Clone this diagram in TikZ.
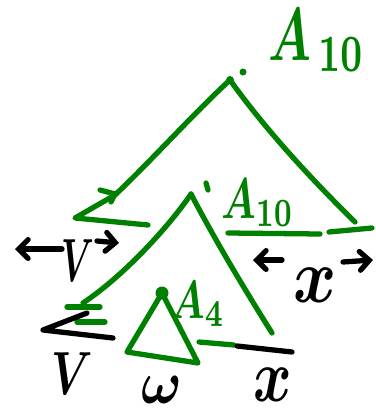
\documentclass[tikz,border=0pt]{standalone}
\usepackage{amsmath}
\usetikzlibrary{arrows.meta}
\definecolor{inkgreen}{RGB}{0,128,0}
\tikzstyle{ink} = [draw=inkgreen, line width=4.5pt, line cap=round, line join=round]
\tikzstyle{pen} = [draw=black, line width=4.5pt, line cap=round, line join=round]
\tikzstyle{dimarrow} = [pen, -{Straight Barb[length=8pt, width=16pt, line cap=round]}]
\tikzstyle{glbl} = [inner sep=0pt, text=inkgreen, font=\boldmath]
\tikzstyle{lbl} = [inner sep=0pt, text=black, font=\boldmath]

\begin{document}
\begin{tikzpicture}[x=0.03cm, y=-0.03cm]
    \useasboundingbox (0,0) rectangle (376,415);

    \coordinate (ta) at (230,80);
    \coordinate (tl) at (75,218);
    \coordinate (tr) at (355,222);
    \coordinate (ma) at (191,194);
    \coordinate (ml) at (83,303);
    \coordinate (mr) at (272,333);
    \coordinate (ia) at (162,293);
    \coordinate (il) at (127,352);
    \coordinate (ir) at (198,363);

    \draw[ink] (ta) .. controls (195,112) and (150,162) .. (115,195) -- (tl) -- (148,225);
    \draw[ink] (100,190) -- (115,194) -- (111,202);
    \draw[ink] (ta) .. controls (260,122) and (302,170) .. (tr);
    \draw[ink] (228,233) -- (320,234);
    \draw[ink] (329,232) -- (372,228);
    \fill[inkgreen] (ta) circle (4);
    \fill[inkgreen] (243,72) circle (3.5);

    \draw[ink] (ma) .. controls (170,225) and (125,275) .. (ml);
    \draw[ink] (ma) .. controls (215,240) and (245,290) .. (mr);
    \draw[ink] (206,183) -- (208,190);
    \draw[ink] (67,307) -- (100,307);
    \draw[ink] (77,322) -- (105,322);
    \draw[pen] (87,313) -- (43,330) -- (113,338);

    \draw[ink] (ia) -- (il) -- (ir) -- cycle;
    \fill[inkgreen] (ia) circle (6.5);
    \draw[ink] (199,342) -- (234,345);
    \draw[pen] (237,346) -- (292,352);

    \node[glbl, anchor=base west] (atop) at (268,60) {\scalebox{4.2}[6.4]{$A_{\,10}$}};
    \node[glbl, anchor=base west] (amid) at (221,218) {\scalebox{3.4}[4.9]{$A_{10}$}};
    \node[glbl, anchor=base west] (ain) at (170,318) {\scalebox{3.4}[4.6]{$A_4$}};

    \node[lbl] (vtop) at (78,261) {\scalebox{3}[5.2]{$V$}};
    \node[lbl] (xtop) at (315,285) {\scalebox{5.6}[6.6]{$x$}};
    \node[lbl] (vbot) at (72,374) {\scalebox{3.8}[5.2]{$V$}};
    \node[lbl] (wbot) at (162,390) {\scalebox{4.6}[5.2]{$\omega$}};
    \node[lbl] (xbot) at (273,385) {\scalebox{5}[6.4]{$x$}};

    \coordinate (vla) at (62,249);
    \coordinate (vlb) at (15,249);
    \coordinate (vra) at (97,241);
    \coordinate (vrb) at (119,243);
    \coordinate (xla) at (282,260);
    \coordinate (xlb) at (253,260);
    \coordinate (xra) at (343,262);
    \coordinate (xrb) at (373,260);

    \draw[dimarrow] (vla) -- (vlb);
    \draw[dimarrow] (vra) -- (vrb);
    \draw[dimarrow] (xla) -- (xlb);
    \draw[dimarrow] (xra) -- (xrb);
\end{tikzpicture}
\end{document}
